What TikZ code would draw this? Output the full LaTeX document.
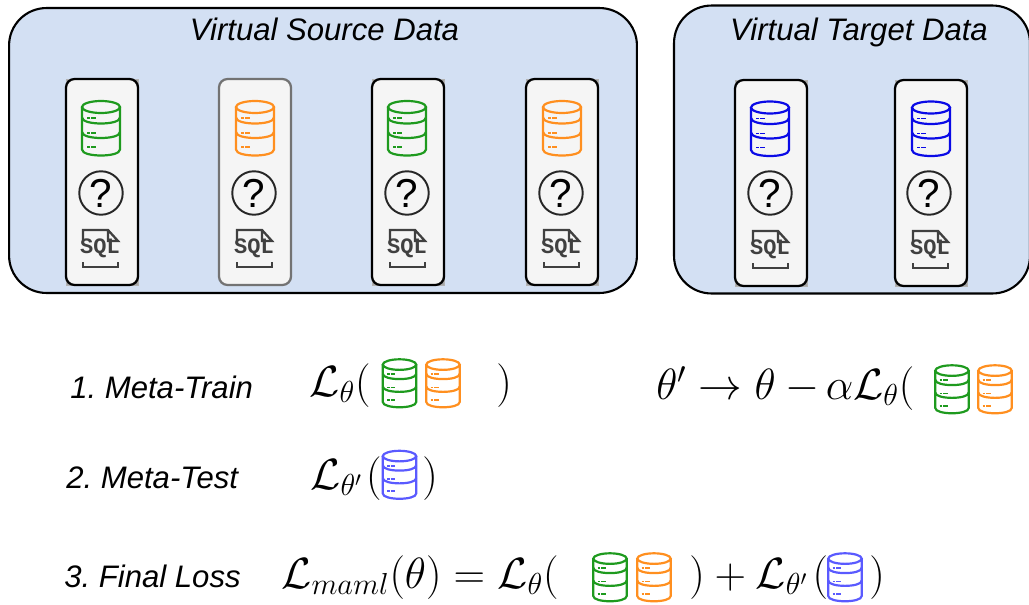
\documentclass[tikz,border=0pt]{standalone}
\usepackage{amsmath}
\usepackage[no-math]{fontspec}
\usepackage{tikz}

\newfontfamily\labelfont{Liberation Sans}
\newfontfamily\sqlfont{Liberation Mono}

\definecolor{panelblue}{HTML}{D3E0F3}
\definecolor{cardgrey}{HTML}{F5F5F5}
\definecolor{dbgreen}{HTML}{1E9A1E}
\definecolor{dborange}{HTML}{FF8F1F}
\definecolor{dbblue}{HTML}{0A0AE6}
\definecolor{dblight}{HTML}{5A5AFF}

\tikzset{
  dbicon/.pic = {
    \draw[line width=1.25pt] (0,-21.5) ellipse [x radius=19, y radius=6];
    \draw[line width=1.25pt] (-19,-21.5) -- (-19,21) .. controls (-19,29) and (19,29) .. (19,21) -- (19,-21.5);
    \draw[line width=1.25pt] (-19,-11) .. controls (-19,-3) and (19,-3) .. (19,-11);
    \draw[line width=1.25pt] (-19,3.5) .. controls (-19,11.5) and (19,11.5) .. (19,3.5);
    \draw[line width=1pt] (-14,-10.5) -- (-11,-10.5) (-10,-10.5) -- (-5,-10.5);
    \draw[line width=1pt] (-14,4.5) -- (-11,4.5) (-10,4.5) -- (-5,4.5);
    \draw[line width=1pt] (-14,18.5) -- (-11,18.5) (-10,18.5) -- (-5,18.5);
  },
  sqlicon/.pic = {
    \node[inner sep=0, font=\sqlfont\bfseries\fontsize{12.5}{12.5}\selectfont, text=black!75] (-label) at (0,0.5) {SQL};
    \draw[line width=1.3pt, black!75] (-17,-8) -- (-17,-18) -- (8,-18) -- (18,-7) -- (8,-7) -- (8,-18);
    \draw[line width=1.3pt, black!75] (-17,14) -- (-17,19) -- (18,19) -- (18,14);
  }
}

\begin{document}
\begin{tikzpicture}[x=0.02cm, y=-0.02cm]
  \tikzstyle{panel} = [draw=black, line width=1.2pt, fill=panelblue, rounded corners=0.75cm, minimum height=5.7cm]
  \tikzstyle{cardback} = [draw=gray!60, fill=gray!70, very thin, minimum width=1.44cm, minimum height=4.12cm]
  \tikzstyle{card} = [draw=black, line width=1.3pt, fill=cardgrey, rounded corners=0.17cm, minimum width=1.44cm, minimum height=4.12cm]
  \tikzstyle{question} = [circle, draw=black!85, line width=1.1pt, inner sep=0, minimum size=0.87cm, font=\labelfont\fontsize{23}{23}\selectfont]
  \tikzstyle{title} = [anchor=base, inner sep=0, font=\labelfont\itshape\fontsize{17.7}{20}\selectfont]
  \tikzstyle{steplabel} = [anchor=base west, inner sep=0, font=\labelfont\itshape\fontsize{17.7}{20}\selectfont]
  \tikzstyle{formula} = [anchor=base west, inner sep=0, font=\fontsize{24}{28}\selectfont]

  \useasboundingbox (0,0) rectangle (1029,605);

  % panels
  \node[panel, minimum width=12.56cm] (source) at (323,150.5) {};
  \node[panel, minimum width=7.12cm, minimum height=5.76cm] (target) at (852,149.5) {};
  \node[title] (sourcetitle) at (324.5,40) {Virtual Source Data};
  \node[title] (targettitle) at (859,40) {Virtual Target Data};

  % cards
  \node[cardback] (b1) at (102,182) {};
  \node[cardback] (b3) at (408,182) {};
  \node[cardback] (b4) at (562,182) {};
  \node[cardback] (b5) at (771,183) {};
  \node[cardback] (b6) at (931,183) {};
  \node[card] (c1) at (102,182) {};
  \node[card, draw=black!55] (c2) at (255,182) {};
  \node[card] (c3) at (408,182) {};
  \node[card] (c4) at (562,182) {};
  \node[card] (c5) at (771,183) {};
  \node[card] (c6) at (931,183) {};

  \pic[color=dbgreen] (d1) at (101,128.5) {dbicon};
  \pic[color=dborange] (d2) at (255,128.5) {dbicon};
  \pic[color=dbgreen] (d3) at (407,128.5) {dbicon};
  \pic[color=dborange] (d4) at (562,128.5) {dbicon};
  \pic[color=dbblue] (d5) at (770,129) {dbicon};
  \pic[color=dbblue] (d6) at (931,129) {dbicon};

  \node[question] (q1) at (101,193) {?};
  \node[question] (q2) at (254,193) {?};
  \node[question] (q3) at (407,193) {?};
  \node[question] (q4) at (561,193) {?};
  \node[question] (q5) at (770,193) {?};
  \node[question] (q6) at (929,193) {?};

  \pic (s1) at (100,248) {sqlicon};
  \pic (s2) at (254,248) {sqlicon};
  \pic (s3) at (407,248) {sqlicon};
  \pic (s4) at (561,248) {sqlicon};
  \pic (s5) at (770,249) {sqlicon};
  \pic (s6) at (930,249) {sqlicon};

  % meta-train
  \node[steplabel] (train) at (70,398) {1.\ Meta-Train};
  \node[formula] (trainloss) at (309,396) {$\mathcal{L}_\theta($};
  \pic[scale=0.88, color=dbgreen] (d7) at (399.5,383.5) {dbicon};
  \pic[scale=0.88, color=dborange] (d8) at (443,383.5) {dbicon};
  \node[formula] (trainclose) at (496,396) {$)$};
  \node[formula] (update) at (656,399) {$\theta' \rightarrow \theta - \hspace{-2pt}\alpha\mathcal{L}_\theta($};
  \pic[scale=0.88, color=dbgreen] (d9) at (952,389.5) {dbicon};
  \pic[scale=0.88, color=dborange] (d10) at (995,389.5) {dbicon};

  % meta-test
  \node[steplabel] (test) at (66,488) {2.\ Meta-Test};
  \node[formula] (testloss) at (310,489) {$\mathcal{L}_{\theta'}\hspace{2pt}($};
  \pic[scale=0.88, color=dblight] (d11) at (399.5,475) {dbicon};
  \node[formula] (testclose) at (422,489) {$)$};

  % final loss
  \node[steplabel] (final) at (64,587) {3.\ Final Loss};
  \node[formula] (finalloss) at (281,588) {$\mathcal{L}_{maml}(\theta) = \mathcal{L}_\theta($};
  \pic[scale=0.88, color=dbgreen] (d12) at (610,577.5) {dbicon};
  \pic[scale=0.88, color=dborange] (d13) at (654,577.5) {dbicon};
  \node[formula] (finalplus) at (689,588) {$) + \mathcal{L}_{\theta'}\hspace{2.5pt}($};
  \pic[scale=0.88, color=dblight] (d14) at (845,577.5) {dbicon};
  \node[formula] (finalclose) at (869,588) {$)$};
\end{tikzpicture}
\end{document}
